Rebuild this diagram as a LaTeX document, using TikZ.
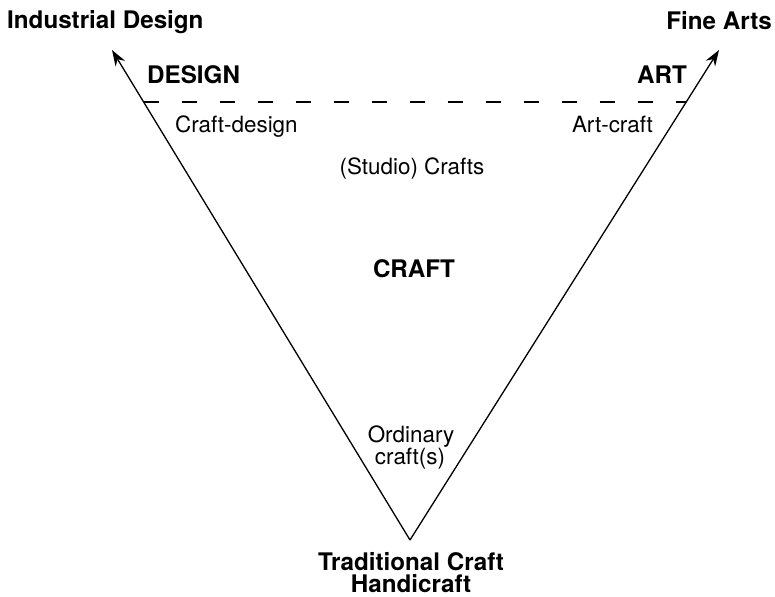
\documentclass[tikz,border=0pt]{standalone}
\usepackage{fontspec}
\setmainfont{TeX Gyre Heros}
\usetikzlibrary{arrows.meta,calc}
\tikzset{
  boldlbl/.style={inner sep=0pt,font=\fontsize{24.2}{25}\selectfont\bfseries},
  reglbl/.style={inner sep=0pt,font=\fontsize{22.4}{24}\selectfont},
  side/.style={line width=1.3pt,-{Stealth[length=16pt,width=11pt]}},
  bound/.style={line width=1.4pt,dash pattern=on 15pt off 23pt},
}
\begin{document}
\begin{tikzpicture}[x=1pt,y=-1pt]
\useasboundingbox (0,0) rectangle (775,596);
\coordinate (v) at (410,540);
\coordinate (lt) at (112,50);
\coordinate (rt) at (719,50);
\coordinate (dl) at ($(v)!0.8939!(lt)$);
\coordinate (dr) at ($(v)!0.8939!(rt)$);
\draw[side] (v) -- (lt);
\draw[side] (v) -- (rt);
\draw[bound] (dl) -- (dr);
\node[boldlbl,anchor=base west] (ind) at (7,29) {Industrial Design};
\node[boldlbl,anchor=base east] (fine) at (772,30) {Fine Arts};
\node[boldlbl,anchor=base west] (design) at (147,84) {DESIGN};
\node[boldlbl,anchor=base east] (art) at (687,84) {ART};
\node[reglbl,anchor=base west] (cd) at (175,133) {Craft-design};
\node[reglbl,anchor=base east] (ac) at (653,133) {Art-craft};
\node[reglbl,anchor=base] (studio) at (412,175) {(Studio) Crafts};
\node[boldlbl,anchor=base] (craft) at (414,277) {CRAFT};
\node[reglbl,anchor=base] (ord1) at (411,442) {Ordinary};
\node[reglbl,anchor=base] (ord2) at (410,464) {craft(s)};
\node[boldlbl,anchor=base] (trad) at (411,570) {Traditional Craft};
\node[boldlbl,anchor=base] (hand) at (411,592) {Handicraft};
\end{tikzpicture}
\end{document}
